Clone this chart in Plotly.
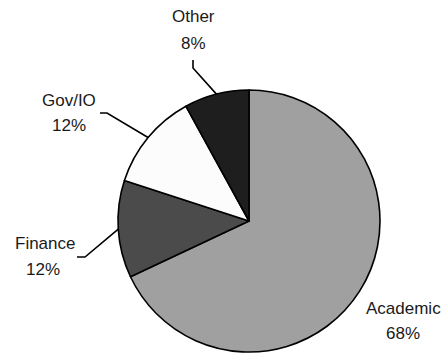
import math
import plotly.graph_objects as go

# Share of respondents by sector
sectors = ["Academic", "Finance", "Gov/IO", "Other"]
shares = [68, 12, 12, 8]
colors = ["#a0a0a0", "#4b4b4b", "#fcfcfc", "#1e1e1e"]

W, H = 444, 353
CX, CY, R = 249, 221, 131  # pie centre and radius in pixels


def px(x):
    return x / W


def py(y):
    return 1 - y / H


fig = go.Figure(
    go.Pie(
        labels=sectors,
        values=shares,
        sort=False,
        direction="clockwise",
        rotation=0,
        textinfo="none",
        hoverinfo="label+percent",
        marker=dict(colors=colors, line=dict(color="#000000", width=1.6)),
        domain=dict(x=[px(CX - R), px(CX + R)], y=[py(CY + R), py(CY - R)]),
        showlegend=False,
    )
)

# Point on the rim at the middle of each slice
total = sum(shares)
rim = {}
acc = 0
for name, v in zip(sectors, shares):
    mid = (acc + v / 2) / total * 2 * math.pi
    rim[name] = (CX + R * math.sin(mid), CY - R * math.cos(mid))
    acc += v

# Label placement: (name centre, percent centre, stub start, stub end)
label_pos = {
    "Academic": ((403, 308), (403, 333), None, None),
    "Finance": ((45, 243), (43, 269), (77, 257), (85, 257)),
    "Gov/IO": ((69, 100), (69, 126), (100, 113), (107, 113)),
    "Other": ((193, 17), (193, 43), (193, 60), (193, 68)),
}

font = dict(family="Liberation Sans, Arial, sans-serif", size=17, color="#1a1a1a")
annotations = []
shapes = []
for name, v in zip(sectors, shares):
    (nx, ny), (vx, vy), s0, s1 = label_pos[name]
    annotations.append(dict(x=px(nx), y=py(ny), xref="paper", yref="paper",
                            text=name, showarrow=False, font=font,
                            xanchor="center", yanchor="middle"))
    annotations.append(dict(x=px(vx), y=py(vy), xref="paper", yref="paper",
                            text=f"{v}%", showarrow=False, font=font,
                            xanchor="center", yanchor="middle"))
    if s0 is not None:
        ex, ey = rim[name]
        path = (f"M {px(s0[0])} {py(s0[1])} L {px(s1[0])} {py(s1[1])} "
                f"L {px(ex)} {py(ey)}")
        shapes.append(dict(type="path", xref="paper", yref="paper", path=path,
                           line=dict(color="#000000", width=1.6)))

fig.update_layout(
    width=W,
    height=H,
    margin=dict(l=0, r=0, t=0, b=0),
    paper_bgcolor="#ffffff",
    plot_bgcolor="#ffffff",
    annotations=annotations,
    shapes=shapes,
)

fig.write_html("out.html")
